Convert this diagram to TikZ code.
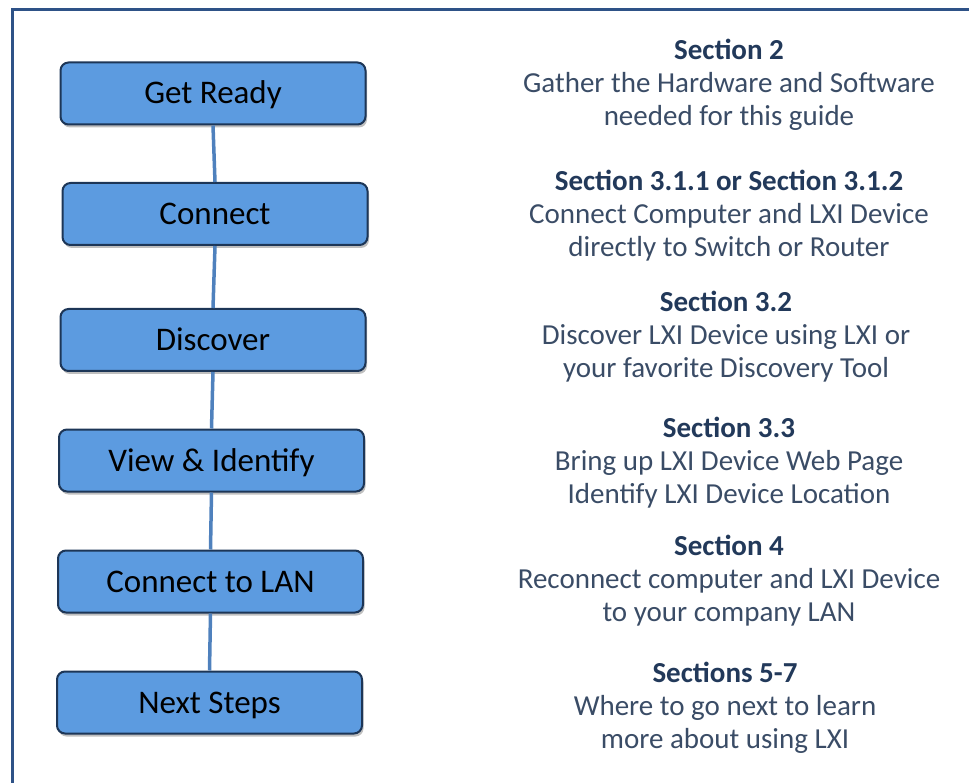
\documentclass[tikz,border=0pt]{standalone}
\usepackage{fontspec}
\setmainfont{Carlito}
\usetikzlibrary{positioning,shadows}

\definecolor{framecol}{HTML}{2E5287}
\definecolor{boxfill}{HTML}{5C9BE0}
\definecolor{boxline}{HTML}{1D3657}
\definecolor{linkcol}{HTML}{4F81BD}
\definecolor{headcol}{HTML}{22395A}
\definecolor{bodycol}{HTML}{3A4C66}

\begin{document}
\begin{tikzpicture}[x=1pt,y=-1pt,
    stepbox/.style={draw=boxline,line width=2pt,fill=boxfill,rounded corners=8pt,
        minimum width=305pt,minimum height=62pt,inner sep=0pt,
        font=\fontsize{33}{38}\selectfont,text=black,
        text height=26pt,text depth=5pt,
        drop shadow={shadow xshift=1.5pt,shadow yshift=-3pt,opacity=0.5}},
    link/.style={draw=linkcol,line width=3.5pt},
    note/.style={align=center,inner sep=0pt,text=bodycol,
        font=\fontsize{29}{33}\selectfont}
    ]
    \useasboundingbox (0,0) rectangle (969,783);
    % frame
    \draw[framecol,line width=3pt] (12,783) -- (12,10) -- (969,10);

    % steps
    \node[stepbox] (getready) at (213,93.5) {Get Ready};
    \node[stepbox] (connect) at (215,214) {Connect};
    \node[stepbox] (discover) at (213,340) {Discover};
    \node[stepbox] (view) at (211.5,460.5) {View \& Identify};
    \node[stepbox] (lan) at (210.5,581.5) {Connect to LAN};
    \node[stepbox] (next) at (209.5,702.5) {Next Steps};

    % links
    \draw[link] (getready.south) -- (connect.north);
    \draw[link] (connect.south) -- (discover.north);
    \draw[link] (discover.south) -- (view.north);
    \draw[link] (view.south) -- (lan.north);
    \draw[link] (lan.south) -- (next.north);

    % sections
    \node[note] (sec2) at (729,85) {\textcolor{headcol}{\bfseries Section 2}\\
        Gather the Hardware and Software\\needed for this guide};
    \node[note] (sec31) at (729,215.5) {\textcolor{headcol}{\bfseries Section 3.1.1 or Section 3.1.2}\\
        Connect Computer and LXI Device\\directly to Switch or Router};
    \node[note] (sec32) at (726,337) {\textcolor{headcol}{\bfseries Section 3.2}\\
        Discover LXI Device using LXI or\\your favorite Discovery Tool};
    \node[note] (sec33) at (729,463) {\textcolor{headcol}{\bfseries Section 3.3}\\
        Bring up LXI Device Web Page\\Identify LXI Device Location};
    \node[note] (sec4) at (729,580.5) {\textcolor{headcol}{\bfseries Section 4}\\
        Reconnect computer and LXI Device\\to your company LAN};
    \node[note] (sec57) at (725,708) {\textcolor{headcol}{\bfseries Sections 5-7}\\
        Where to go next to learn\\more about using LXI};
\end{tikzpicture}
\end{document}
